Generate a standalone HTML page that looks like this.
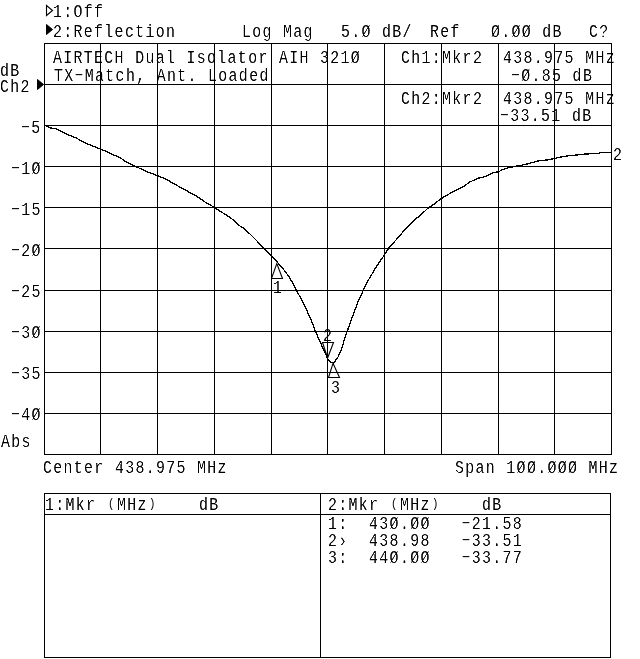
<!DOCTYPE html>
<html><head><meta charset="utf-8">
<style>
html,body{margin:0;padding:0;background:#fff;}
body{width:640px;height:659px;position:relative;overflow:hidden;}
svg{position:absolute;left:0;top:0;z-index:2;}
.p{font-size:12.5px;position:relative;top:-2px;margin-left:1.50px;letter-spacing:3.08px;-webkit-text-stroke:0px #fff;}
.t{position:absolute;white-space:pre;font-family:"Liberation Mono",monospace;font-size:17.5px;line-height:17px;color:#000;letter-spacing:1.581px;transform:scale(0.85,1.04);transform-origin:0 0;filter:grayscale(1) contrast(4);-webkit-text-stroke:0.2px #fff;}
</style></head><body>
<svg width="640" height="659" viewBox="0 0 640 659">
<g stroke="#000" stroke-width="1" fill="none" shape-rendering="crispEdges">
<path d="M44.5 43V455M100.5 43V455M157.5 43V455M214.5 43V455M271.5 43V455M327.5 43V455M384.5 43V455M441.5 43V455M498.5 43V455M554.5 43V455M611.5 43V455"/>
<path d="M44 43.5H612M44 84.5H612M44 125.5H612M44 166.5H612M44 207.5H612M44 248.5H612M44 290.5H612M44 331.5H612M44 372.5H612M44 413.5H612M44 454.5H612"/>
<path d="M44.5 493V658M610.5 493V658M320.5 493V658M44 493.5H611M44 514.5H611M44 657.5H611"/>
</g>
<polyline fill="none" stroke="#000" stroke-width="1.3" stroke-linejoin="round" shape-rendering="crispEdges" points="44.5,125.5 45.9,125.8 50.6,128 56.2,128.9 60.9,131.25 67.4,134.5 75.9,137.8 83.4,142 90.9,145.3 100.25,149 104,150.5 111.25,153.9 120.2,157.65 124.4,160.9 135.6,166.4 146.9,171.7 157.2,175.5 165.4,178.9 172,182.65 180.4,187.3 188.9,192 198.25,197.2 204.8,201.9 213.25,206.75 220.6,211.6 226.2,214.8 232.75,219.5 239.3,225.6 243.1,228 249.6,233.6 256.2,240.2 262.75,247.2 268.4,252.8 272.1,256.6 275.5,259.6 279.1,264.6 283.7,269.6 288.2,275.5 292.8,283.2 296.4,290.1 301,298.7 306.8,310.5 310.9,319.1 315.5,331.4 320.9,343.7 325.5,353.7 328.2,360.1 330.9,362.6 333.7,363 337.8,357.5 341.9,348.25 345,337.3 353.2,314.65 357.8,302.4 363.2,290.5 368.7,279.6 375.1,268.7 383.7,255.9 389.6,247 398.1,237.65 403.7,231.1 408.4,225.9 414.9,219.4 419.6,216.1 428,208.1 433.7,204.4 440.25,199.2 445.7,195.9 451.3,192.65 457.9,189.4 464.4,186.1 469.1,182.3 478.5,178.1 485.05,176.7 493.5,172.5 498.9,171.7 501.75,169.8 510.2,167.3 519.6,165.6 528,163.75 537.4,161.1 546.75,160 554.25,158.6 563.5,156.4 574.2,155.2 586.1,154 599.1,153.4 601.5,152.2 611.4,152.2"/>
<g fill="none" stroke="#000" stroke-width="1.1">
<path d="M276.8 263.6L271.5 278.5H282.5Z"/>
<path d="M322.5 342.5H333.5L327.6 358Z"/>
<path d="M333 363.3L328.5 377.5H339.5Z"/>
<path d="M46.5 5.5V15.5L52.5 10.5Z"/>
</g>
<g fill="#000" stroke="#000" stroke-width="1">
<path d="M46.5 24.5V34.5L52.5 29.5Z"/>
<path d="M37.5 79.5V89.5L43.5 84.5Z"/>
</g>
</svg>
<div class="t" style="left:53.04px;top:3.00px">1:Off</div>
<div class="t" style="left:53.04px;top:23.00px">2:Reflection</div>
<div class="t" style="left:241.64px;top:23.00px">Log Mag</div>
<div class="t" style="left:340.64px;top:23.00px">5.Ø dB/</div>
<div class="t" style="left:430.24px;top:23.00px">Ref</div>
<div class="t" style="left:491.04px;top:23.00px">Ø.ØØ dB</div>
<div class="t" style="left:589.14px;top:23.00px">C?</div>
<div class="t" style="left:53.34px;top:49.00px">AIRTECH Dual Isolator AIH 321Ø</div>
<div class="t" style="left:53.54px;top:67.00px">TX−Match, Ant. Loaded</div>
<div class="t" style="left:401.04px;top:49.00px">Ch1:Mkr2</div>
<div class="t" style="left:502.84px;top:49.00px">438.975 MHz</div>
<div class="t" style="left:510.54px;top:67.00px">−Ø.85 dB</div>
<div class="t" style="left:401.04px;top:90.00px">Ch2:Mkr2</div>
<div class="t" style="left:502.84px;top:90.00px">438.975 MHz</div>
<div class="t" style="left:500.34px;top:107.00px">−33.51 dB</div>
<div class="t" style="left:0.24px;top:62.00px">dB</div>
<div class="t" style="left:0.24px;top:78.00px">Ch2</div>
<div class="t" style="left:20.54px;top:119.00px">−5</div>
<div class="t" style="left:10.84px;top:160.00px">−1Ø</div>
<div class="t" style="left:10.84px;top:201.00px">−15</div>
<div class="t" style="left:10.84px;top:242.00px">−2Ø</div>
<div class="t" style="left:10.84px;top:283.00px">−25</div>
<div class="t" style="left:10.84px;top:324.00px">−3Ø</div>
<div class="t" style="left:10.84px;top:365.00px">−35</div>
<div class="t" style="left:10.84px;top:406.00px">−4Ø</div>
<div class="t" style="left:1.14px;top:433.00px">Abs</div>
<div class="t" style="left:42.54px;top:459.00px">Center 438.975 MHz</div>
<div class="t" style="left:454.54px;top:459.00px">Span 1ØØ.ØØØ MHz</div>
<div class="t" style="left:44.74px;top:496.00px">1:Mkr <span class="p">(</span>MHz<span class="p">)</span>    dB</div>
<div class="t" style="left:327.64px;top:496.00px">2:Mkr <span class="p">(</span>MHz<span class="p">)</span>    dB</div>
<div class="t" style="left:327.54px;top:515.00px">1:  43Ø.ØØ   −21.58</div>
<div class="t" style="left:327.54px;top:532.00px">2›  438.98   −33.51</div>
<div class="t" style="left:327.54px;top:549.00px">3:  44Ø.ØØ   −33.77</div>
<div class="t" style="left:272.54px;top:279.00px">1</div>
<div class="t" style="left:323.34px;top:327.00px">2</div>
<div class="t" style="left:330.54px;top:379.00px">3</div>
<div class="t" style="left:613.04px;top:146.00px">2</div>
</body></html>
